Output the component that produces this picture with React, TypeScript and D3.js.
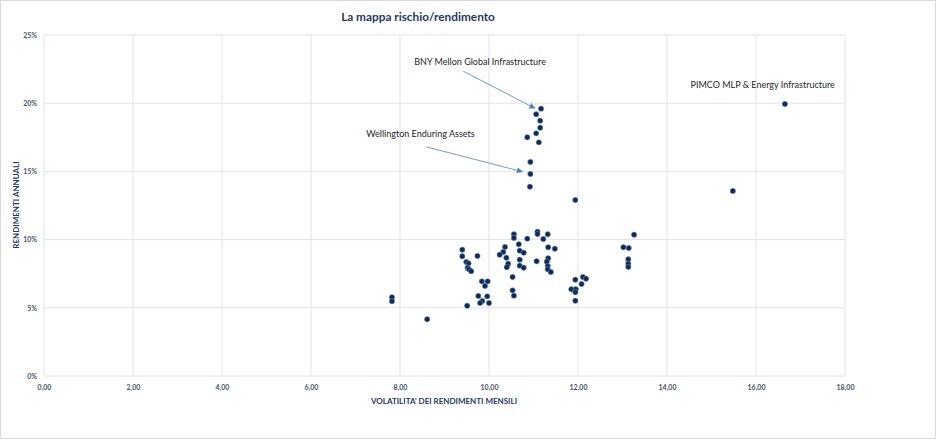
import { useEffect, useRef } from "react";
import * as d3 from "d3";

// volatilità mensile (x) e rendimento annuo in % (y)
const volatility = [
  7.82, 7.82, 8.61, 9.4, 9.4, 9.74, 9.49, 9.54, 9.52, 9.55, 9.6, 9.84, 9.97,
  9.91, 9.76, 9.96, 9.85, 9.8, 10.0, 9.51, 10.56, 10.56, 10.67, 10.36, 10.32,
  10.24, 10.39, 10.43, 10.4, 10.53, 10.53, 10.56, 10.69, 10.78, 10.69, 10.69,
  10.78, 10.86, 11.09, 11.09, 11.32, 11.22, 11.07, 11.33, 11.48, 11.33, 11.3,
  11.32, 11.32, 11.39, 11.94, 12.11, 12.18, 12.08, 11.85, 11.95, 11.94, 11.94,
  13.26, 13.02, 13.14, 13.13, 13.13, 13.13, 11.17, 11.06, 11.15, 11.15, 11.06,
  10.86, 11.12, 10.93, 10.93, 10.92, 11.94, 16.65, 15.48,
];
const returns = [
  5.77, 5.48, 4.16, 9.26, 8.78, 8.8, 8.36, 8.26, 7.94, 7.82, 7.68, 6.94, 6.94,
  6.6, 5.87, 5.84, 5.5, 5.35, 5.35, 5.15, 10.39, 10.12, 9.66, 9.46, 9.09, 8.89,
  8.67, 8.23, 7.97, 7.26, 6.28, 5.89, 9.19, 9.04, 8.53, 8.09, 7.94, 10.07,
  10.58, 10.41, 10.39, 10.04, 8.41, 9.44, 9.33, 8.63, 8.38, 8.06, 7.82, 7.62,
  7.06, 7.26, 7.13, 6.74, 6.36, 6.36, 6.14, 5.52, 10.36, 9.44, 9.38, 8.56,
  8.23, 7.99, 19.6, 19.19, 18.72, 18.2, 17.79, 17.5, 17.13, 15.69, 14.81,
  13.88, 12.9, 19.94, 13.56,
];

const xTicks = [0, 2, 4, 6, 8, 10, 12, 14, 16, 18];
const yTicks = [0, 5, 10, 15, 20, 25];

// etichette: testo, posizione del testo (dati), punta della freccia (dati)
const labels = [
  { text: "BNY Mellon Global Infrastructure", at: [9.8, 22.8], arrowFrom: [9.42, 22.35], arrowTo: [11.03, 19.63] },
  { text: "Wellington Enduring Assets", at: [8.46, 17.5], arrowFrom: [8.59, 16.8], arrowTo: [10.75, 14.98] },
  { text: "PIMCO MLP & Energy Infrastructure", at: [16.15, 21.1], arrowFrom: null, arrowTo: null },
];

const FONT = "Lato, 'Open Sans', sans-serif";
const NAVY = "#1f3864";

export default function App() {
  const svgRef = useRef<SVGSVGElement>(null);

  useEffect(() => {
    document.body.style.margin = "0";
    const width = 936;
    const height = 440;
    const margin = { top: 35, right: 91, bottom: 64, left: 44 };

    const svg = d3.select(svgRef.current);
    svg.selectAll("*").remove();
    svg.attr("width", width).attr("height", height);

    svg
      .append("rect")
      .attr("x", 0.5)
      .attr("y", 0.5)
      .attr("width", width - 1)
      .attr("height", height - 2)
      .attr("fill", "#fff")
      .attr("stroke", "#d9d9d9");

    const x = d3.scaleLinear().domain([0, 18]).range([margin.left, width - margin.right]);
    const y = d3.scaleLinear().domain([0, 25]).range([height - margin.bottom, margin.top]);

    const defs = svg.append("defs");
    defs
      .append("marker")
      .attr("id", "arrow")
      .attr("viewBox", "0 0 10 10")
      .attr("refX", 9)
      .attr("refY", 5)
      .attr("markerWidth", 8)
      .attr("markerHeight", 6)
      .attr("markerUnits", "userSpaceOnUse")
      .attr("orient", "auto")
      .append("path")
      .attr("d", "M0,0L10,5L0,10z")
      .attr("fill", "#4f81c7");

    // Griglia
    const grid = svg.append("g").attr("stroke", "#e3e3e3").attr("stroke-width", 1);
    grid
      .selectAll("line.v")
      .data(xTicks)
      .enter()
      .append("line")
      .attr("x1", (d) => x(d))
      .attr("x2", (d) => x(d))
      .attr("y1", y(0))
      .attr("y2", y(25));
    grid
      .selectAll("line.h")
      .data(yTicks)
      .enter()
      .append("line")
      .attr("x1", x(0))
      .attr("x2", x(18))
      .attr("y1", (d) => y(d))
      .attr("y2", (d) => y(d));

    // Assi (solo etichette)
    const xAxis = svg
      .append("g")
      .attr("transform", `translate(0,${y(0)})`)
      .call(
        d3
          .axisBottom(x)
          .tickValues(xTicks)
          .tickSize(0)
          .tickPadding(9)
          .tickFormat((d) => (d as number).toFixed(2).replace(".", ","))
      );
    const yAxis = svg
      .append("g")
      .attr("transform", `translate(${x(0)},0)`)
      .call(
        d3
          .axisLeft(y)
          .tickValues(yTicks)
          .tickSize(0)
          .tickPadding(7)
          .tickFormat((d) => `${d}%`)
      );
    [xAxis, yAxis].forEach((a) => {
      a.select(".domain").remove();
      a.selectAll("text")
        .attr("font-family", FONT)
        .attr("font-size", 7)
        .attr("font-weight", 700)
        .attr("fill", "#44546a");
    });

    // Titoli
    svg
      .append("text")
      .attr("x", 418)
      .attr("y", 21)
      .attr("text-anchor", "middle")
      .attr("font-family", FONT)
      .attr("font-size", 11.8)
      .attr("font-weight", 700)
      .attr("fill", NAVY)
      .text("La mappa rischio/rendimento");

    svg
      .append("text")
      .attr("x", 444)
      .attr("y", 404)
      .attr("text-anchor", "middle")
      .attr("font-family", FONT)
      .attr("font-size", 8)
      .attr("font-weight", 700)
      .attr("fill", NAVY)
      .text("VOLATILITA' DEI RENDIMENTI MENSILI");

    svg
      .append("text")
      .attr("transform", "translate(19,205) rotate(-90)")
      .attr("text-anchor", "middle")
      .attr("font-family", FONT)
      .attr("font-size", 8)
      .attr("font-weight", 700)
      .attr("fill", NAVY)
      .text("RENDIMENTI ANNUALI");

    // Punti
    const points = volatility.map((v, i) => ({ v, r: returns[i] }));
    svg
      .append("g")
      .selectAll("circle")
      .data(points)
      .enter()
      .append("circle")
      .attr("cx", (d) => x(d.v))
      .attr("cy", (d) => y(d.r))
      .attr("r", 2.7)
      .attr("fill", "#0f2a55")
      .attr("stroke", "#7f9cc8")
      .attr("stroke-width", 0.5);

    // Etichette e frecce
    const ann = svg.append("g");
    labels.forEach((l) => {
      ann
        .append("text")
        .attr("x", x(l.at[0]))
        .attr("y", y(l.at[1]))
        .attr("text-anchor", "middle")
        .attr("font-family", FONT)
        .attr("font-size", 9)
        .attr("fill", "#262626")
        .text(l.text);
      if (l.arrowFrom && l.arrowTo) {
        ann
          .append("line")
          .attr("x1", x(l.arrowFrom[0]))
          .attr("y1", y(l.arrowFrom[1]))
          .attr("x2", x(l.arrowTo[0]))
          .attr("y2", y(l.arrowTo[1]))
          .attr("stroke", "#4f81c7")
          .attr("stroke-width", 0.8)
          .attr("marker-end", "url(#arrow)");
      }
    });
  }, []);

  return <svg ref={svgRef} style={{ display: "block" }} />;
}
